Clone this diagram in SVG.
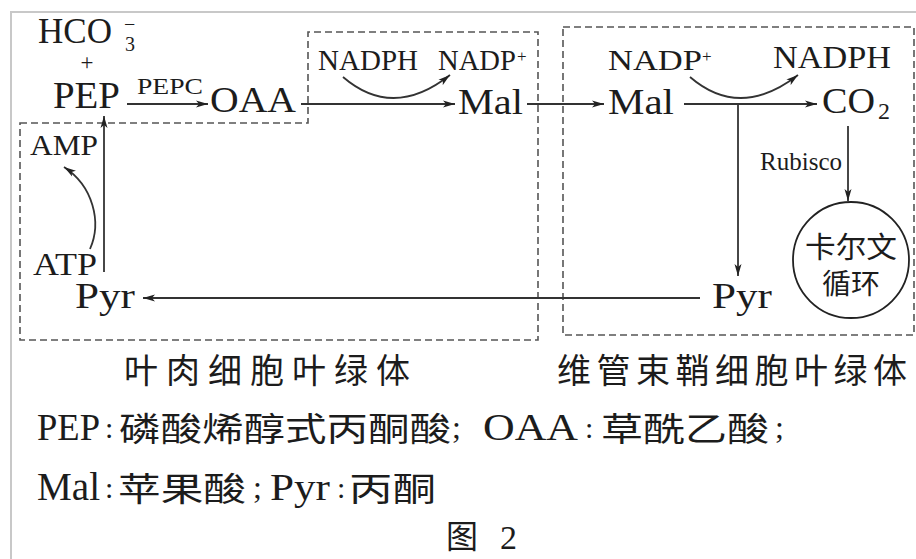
<svg xmlns="http://www.w3.org/2000/svg" width="916" height="559" viewBox="0 0 916 559">
<style>
text{font-family:"Liberation Serif","Noto Sans CJK SC",serif;fill:#1c1c1c}
.cjk{font-family:"Noto Sans CJK SC","Liberation Serif",serif}
.ln{fill:none;stroke:#333;stroke-width:1.8}
.dash{fill:none;stroke:#555;stroke-width:1.6;stroke-dasharray:7 4}
</style>
<defs>
<marker id="ah" markerUnits="userSpaceOnUse" markerWidth="13" markerHeight="8" refX="12" refY="4" orient="auto">
<path d="M0,0.5 L12,4 L0,7.5 L3,4 z" fill="#222"/>
</marker>
</defs>
<rect width="916" height="559" fill="#fff"/>
<path d="M11,559 V12 H916" fill="none" stroke="#c8c8c8" stroke-width="2"/>
<g id="mesophyll-box"><path class="dash" d="M20,123 H308 V32 H538 V340 H20 Z"/></g>
<g id="bundle-box"><rect class="dash" x="563" y="27" width="351" height="308"/></g>
<g id="connectors">
<path class="ln" d="M127,104 H208" marker-end="url(#ah)"/>
<path class="ln" d="M301,104 H455" marker-end="url(#ah)"/>
<path class="ln" d="M527,104 H604" marker-end="url(#ah)"/>
<path class="ln" d="M684,104 H817" marker-end="url(#ah)"/>
<path class="ln" d="M738,104 V276" marker-end="url(#ah)"/>
<path class="ln" d="M848,126 V201" marker-end="url(#ah)"/>
<path class="ln" d="M700,298 H143" marker-end="url(#ah)"/>
<path class="ln" d="M104,272 V116" marker-end="url(#ah)"/>
<path class="ln" d="M90,249 C102,222 93,186 64,167" marker-end="url(#ah)"/>
<path class="ln" d="M343,77 Q393,120 450,75" marker-end="url(#ah)"/>
<path class="ln" d="M690,77 Q740,120 798,75" marker-end="url(#ah)"/>
</g>
<g id="hco3">
<text x="38" y="43" font-size="35" textLength="74" lengthAdjust="spacingAndGlyphs">HCO</text>
<text x="125" y="51" font-size="20">3</text>
<text x="124" y="31" font-size="20">−</text>
<text x="87" y="70" font-size="23" text-anchor="middle">+</text>
</g>
<g id="pep"><text x="53" y="108" font-size="38" textLength="67" lengthAdjust="spacingAndGlyphs">PEP</text></g>
<g id="pepc"><text x="137" y="94" font-size="24" textLength="66" lengthAdjust="spacingAndGlyphs">PEPC</text></g>
<g id="oaa"><text x="210" y="112" font-size="35" textLength="86" lengthAdjust="spacingAndGlyphs">OAA</text></g>
<g id="nadph-left"><text x="318" y="70" font-size="29" textLength="100" lengthAdjust="spacingAndGlyphs">NADPH</text></g>
<g id="nadp-left">
<text x="438" y="70" font-size="29" textLength="78" lengthAdjust="spacingAndGlyphs">NADP</text>
<text x="517" y="62" font-size="17">+</text>
</g>
<g id="mal-left"><text x="458" y="114" font-size="35" textLength="65" lengthAdjust="spacingAndGlyphs">Mal</text></g>
<g id="mal-right"><text x="608" y="114" font-size="35" textLength="66" lengthAdjust="spacingAndGlyphs">Mal</text></g>
<g id="nadp-right">
<text x="608" y="70" font-size="30" textLength="94" lengthAdjust="spacingAndGlyphs">NADP</text>
<text x="702" y="62" font-size="17">+</text>
</g>
<g id="nadph-right"><text x="773" y="68" font-size="32" textLength="118" lengthAdjust="spacingAndGlyphs">NADPH</text></g>
<g id="co2">
<text x="822" y="113" font-size="35" textLength="53" lengthAdjust="spacingAndGlyphs">CO</text>
<text x="878" y="119" font-size="24">2</text>
</g>
<g id="rubisco"><text x="760" y="170" font-size="25" textLength="82" lengthAdjust="spacingAndGlyphs">Rubisco</text></g>
<g id="calvin">
<circle cx="851" cy="260" r="58" fill="none" stroke="#222" stroke-width="1.8"/>
<text x="851" y="258" font-size="29" text-anchor="middle" textLength="92" lengthAdjust="spacingAndGlyphs">卡尔文</text>
<text x="851" y="294" font-size="28" text-anchor="middle" textLength="58" lengthAdjust="spacingAndGlyphs">循环</text>
</g>
<g id="pyr-right"><text x="712" y="308" font-size="36" textLength="60" lengthAdjust="spacingAndGlyphs">Pyr</text></g>
<g id="pyr-left"><text x="75" y="308" font-size="36" textLength="60" lengthAdjust="spacingAndGlyphs">Pyr</text></g>
<g id="atp"><text x="33" y="275" font-size="32" textLength="64" lengthAdjust="spacingAndGlyphs">ATP</text></g>
<g id="amp"><text x="30" y="155" font-size="29" textLength="68" lengthAdjust="spacingAndGlyphs">AMP</text></g>
<g id="labels">
<text class="cjk" x="124" y="383" font-size="34" textLength="286" lengthAdjust="spacing">叶肉细胞叶绿体</text>
<text class="cjk" x="557" y="383" font-size="34" textLength="350" lengthAdjust="spacing">维管束鞘细胞叶绿体</text>
</g>
<g id="legend">
<text x="37" y="440" font-size="38" textLength="63" lengthAdjust="spacingAndGlyphs">PEP</text>
<text x="105" y="438" font-size="30">:</text>
<text class="cjk" x="119" y="441" font-size="33" textLength="332" lengthAdjust="spacingAndGlyphs">磷酸烯醇式丙酮酸</text>
<text x="452" y="438" font-size="32">;</text>
<text x="483" y="440" font-size="38" textLength="95" lengthAdjust="spacingAndGlyphs">OAA</text>
<text x="585" y="438" font-size="30">:</text>
<text class="cjk" x="601" y="441" font-size="33" textLength="168" lengthAdjust="spacingAndGlyphs">草酰乙酸</text>
<text x="775" y="438" font-size="32">;</text>
<text x="37" y="500" font-size="39" textLength="63" lengthAdjust="spacingAndGlyphs">Mal</text>
<text x="105" y="498" font-size="30">:</text>
<text class="cjk" x="118" y="501" font-size="33" textLength="128" lengthAdjust="spacingAndGlyphs">苹果酸</text>
<text x="253" y="498" font-size="32">;</text>
<text x="270" y="500" font-size="38" textLength="60" lengthAdjust="spacingAndGlyphs">Pyr</text>
<text x="337" y="498" font-size="30">:</text>
<text class="cjk" x="349" y="501" font-size="33" textLength="87" lengthAdjust="spacingAndGlyphs">丙酮</text>
</g>
<g id="caption">
<text class="cjk" x="446" y="548" font-size="32">图</text>
<text x="500" y="549" font-size="34">2</text>
</g>
</svg>
